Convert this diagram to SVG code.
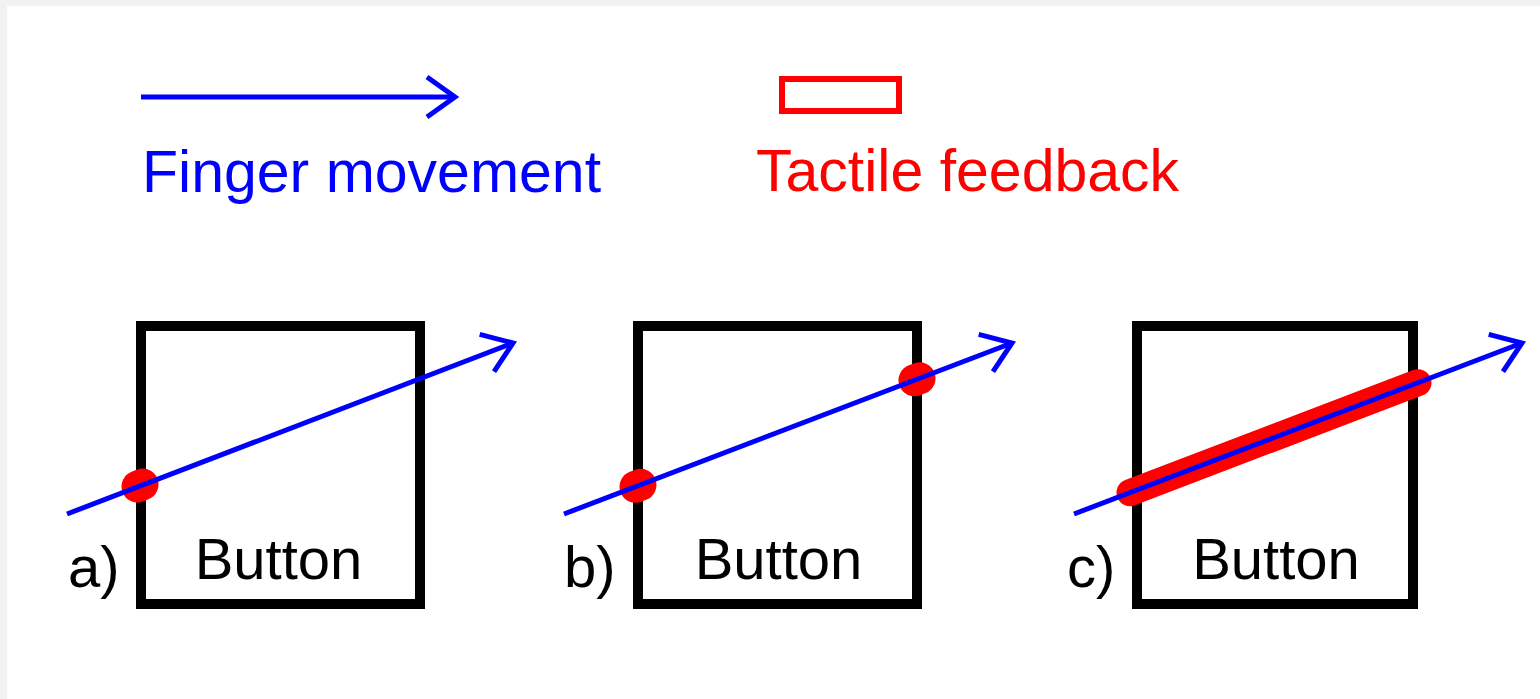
<svg xmlns="http://www.w3.org/2000/svg" width="1540" height="699" viewBox="0 0 1540 699">
<style>
.lbl{font-family:"Liberation Sans",Arial,sans-serif;font-size:58px;fill:#000}
.leg{font-family:"Liberation Sans",Arial,sans-serif;font-size:59px}
.box{fill:none;stroke:#000;stroke-width:10}
.mv{fill:none;stroke:#0000ff;stroke-width:5;marker-end:url(#ah)}
.fb{stroke:#ff0000;stroke-linecap:round;fill:none}
</style>
<defs>
<marker id="ah" markerUnits="userSpaceOnUse" markerWidth="60" markerHeight="60" viewBox="-40 -30 50 60" refX="0" refY="0" orient="auto" overflow="visible">
<path d="M-28,-20 L0,0 L-28,20" fill="none" stroke="#0000ff" stroke-width="5" stroke-linejoin="miter"/>
</marker>
</defs>
<rect x="0" y="0" width="1540" height="699" fill="#f2f2f0"/>
<rect x="7" y="6" width="1533" height="693" fill="#ffffff"/>
<g id="legend-movement">
<path class="mv" d="M141,97 L455,97"/>
<text class="leg" x="142" y="192" fill="#0000ff">Finger movement</text>
</g>
<g id="legend-feedback">
<rect x="782" y="79" width="117" height="32" fill="none" stroke="#ff0000" stroke-width="6"/>
<text class="leg" x="756" y="191" fill="#ff0000">Tactile feedback</text>
</g>
<g id="button-a">
<rect class="box" x="141" y="326" width="279" height="278"/>
<text class="lbl" x="278.5" y="579" text-anchor="middle">Button</text>
<text class="lbl" x="68" y="587">a)</text>
</g>
<g id="button-b">
<rect class="box" x="638" y="326" width="279" height="278"/>
<text class="lbl" x="778.5" y="579" text-anchor="middle">Button</text>
<text class="lbl" x="564" y="587">b)</text>
</g>
<g id="button-c">
<rect class="box" x="1137" y="326" width="276" height="278"/>
<text class="lbl" x="1276" y="579" text-anchor="middle">Button</text>
<text class="lbl" x="1067" y="587">c)</text>
</g>
<g id="feedback">
<path class="fb" stroke-width="32" d="M137.5,486.5 L142.5,484.5"/>
<path class="fb" stroke-width="32" d="M635.5,486.8 L640.5,484.9"/>
<path class="fb" stroke-width="32" d="M914.5,380.3 L919.5,378.4"/>
<path class="fb" stroke-width="27" d="M1130,492.6 L1418,382.7"/>
</g>
<g id="connectors">
<path class="mv" d="M67,514 L513,343"/>
<path class="mv" d="M564,514 L1012,343"/>
<path class="mv" d="M1074,514 L1522,343"/>
</g>
</svg>
